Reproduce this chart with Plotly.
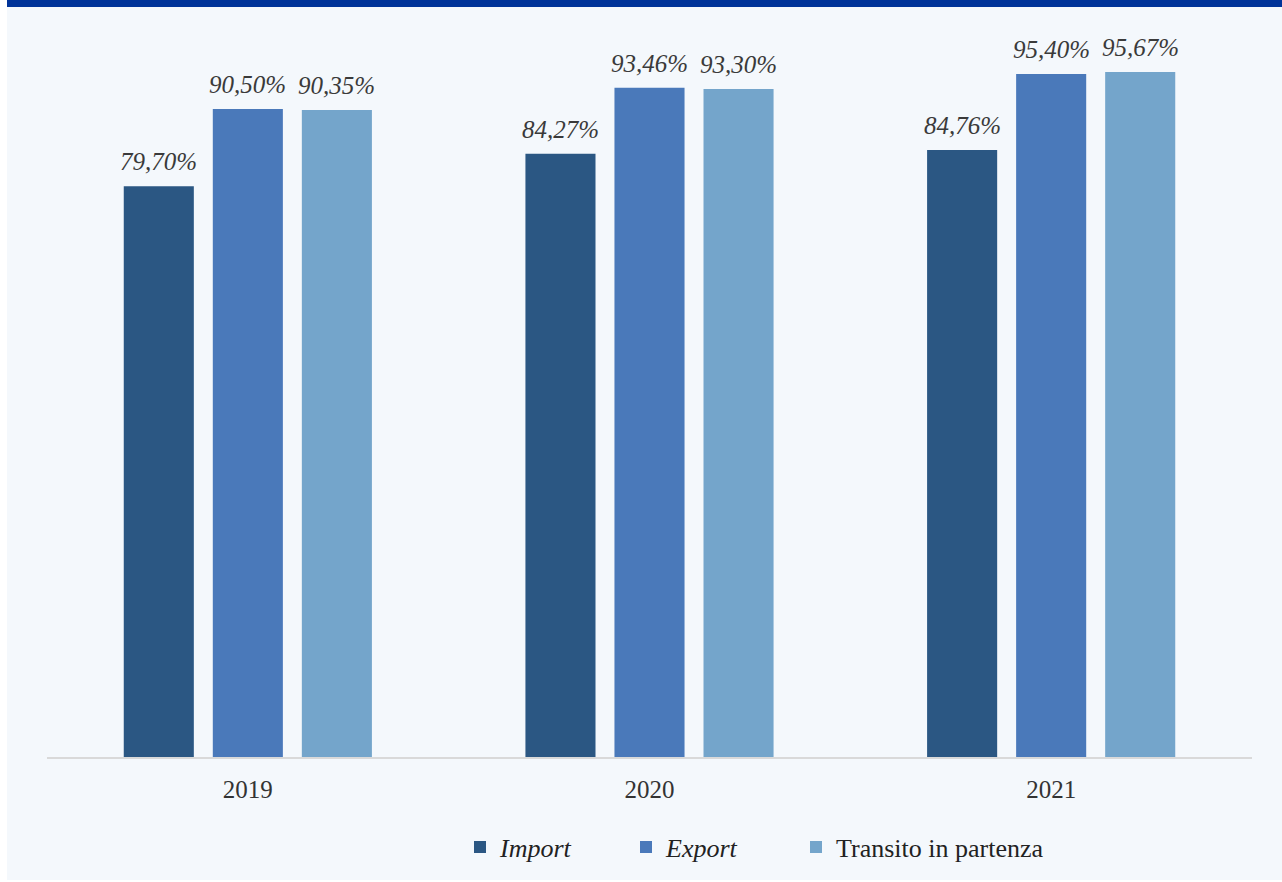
import plotly.graph_objects as go

# Data
years = ["2019", "2020", "2021"]
import_vals = [79.70, 84.27, 84.76]
export_vals = [90.50, 93.46, 95.40]
transito_vals = [90.35, 93.30, 95.67]

series = [
    ("<i>Import</i>", import_vals, "#2B5783", "legend"),
    ("<i>Export</i>", export_vals, "#4A79BA", "legend2"),
    ("Transito in partenza", transito_vals, "#74A5CB", "legend3"),
]

def fmt(v):
    return "<i>" + f"{v:.2f}".replace(".", ",") + "%</i>"

W, H = 1282, 882
ml, mr, mt, mb = 47, 30, 41, 125
pw = W - ml - mr
ph = H - mt - mb

def px_x(px):
    return (px - ml) / pw

def px_y(py):
    return (H - mb - py) / ph

fig = go.Figure()
annotations = []
shifts = [-89, 0, 89]
for (name, vals, color, lg), dx in zip(series, shifts):
    fig.add_trace(go.Bar(
        x=years,
        y=vals,
        name=name,
        legend=lg,
        marker=dict(color=color, line=dict(width=0)),
    ))
    # value labels: category index on the x axis, offset to the bar within the group
    for i, v in enumerate(vals):
        annotations.append(dict(
            x=i, y=v, xref="x", yref="y",
            text=fmt(v), showarrow=False,
            xanchor="center", yanchor="bottom",
            xshift=dx, yshift=9,
            font=dict(family="Liberation Serif", size=25, color="#3A3A3A"),
        ))

def legend_at(px):
    return dict(
        orientation="h",
        x=px_x(px), xanchor="left",
        y=px_y(847), yanchor="middle",
        font=dict(family="Liberation Serif", size=26, color="#222222"),
        bgcolor="rgba(0,0,0,0)",
    )

bg = "#F4F8FC"
fig.update_layout(
    width=W,
    height=H,
    margin=dict(l=ml, r=mr, t=mt, b=mb),
    paper_bgcolor=bg,
    plot_bgcolor=bg,
    barmode="group",
    bargap=0.335,
    bargroupgap=0.213,
    font=dict(family="Liberation Serif", color="#333333"),
    showlegend=True,
    legend=legend_at(460),
    legend2=legend_at(626),
    legend3=legend_at(796),
    annotations=annotations,
    xaxis=dict(
        type="category",
        range=[-0.5, 2.5],
        showgrid=False,
        showline=True,
        linecolor="#D9D9D9",
        linewidth=2,
        ticks="",
        ticklabelstandoff=9,
        tickfont=dict(size=25, color="#333333"),
    ),
    yaxis=dict(
        range=[0, 100],
        visible=False,
        showgrid=False,
    ),
    shapes=[
        # top dark band
        dict(type="rect", xref="paper", yref="paper",
             x0=px_x(7), x1=px_x(W), y0=px_y(7), y1=px_y(0),
             fillcolor="#003399", line=dict(width=0)),
        # white left strip
        dict(type="rect", xref="paper", yref="paper",
             x0=px_x(0), x1=px_x(7), y0=px_y(H), y1=px_y(0),
             fillcolor="white", line=dict(width=0)),
        # white bottom strip
        dict(type="rect", xref="paper", yref="paper",
             x0=px_x(0), x1=px_x(W), y0=px_y(H), y1=px_y(880),
             fillcolor="white", line=dict(width=0)),
    ],
)

fig.write_html("out.html", config={"displayModeBar": False},
               post_script="document.body.style.margin='0';")
